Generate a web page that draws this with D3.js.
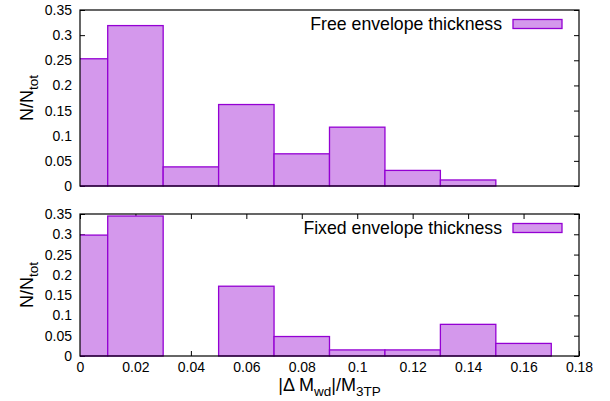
<!DOCTYPE html>
<html>
<head>
<meta charset="utf-8">
<script src="https://cdn.jsdelivr.net/npm/d3@7"></script>
<style>
  body { margin: 0; background: #fff; }
  svg { display: block; }
  text { font-family: "Liberation Sans", Arial, sans-serif; fill: #000; }
</style>
</head>
<body>
<svg id="chart" width="610" height="401"></svg>
<script>
// ---- data ----
const binCenters = [0, 0.02, 0.04, 0.06, 0.08, 0.10, 0.12, 0.14, 0.16];
const binWidth = 0.02;
const freeValues  = [0.253, 0.319, 0.038, 0.162, 0.064, 0.117, 0.031, 0.012, 0];
const fixedValues = [0.298, 0.345, 0, 0.172, 0.048, 0.015, 0.015, 0.078, 0.031];
const xTicks = [0, 0.02, 0.04, 0.06, 0.08, 0.10, 0.12, 0.14, 0.16, 0.18];
const yTicks = [0, 0.05, 0.10, 0.15, 0.20, 0.25, 0.30, 0.35];
const legendLabels = ["Free envelope thickness", "Fixed envelope thickness"];

const fillColor = "#d498ec";
const strokeColor = "#9400d3";

const svg = d3.select("#chart");
const left = 80, right = 579;
const x = d3.scaleLinear().domain([0, 0.18]).range([left, right]);

const panels = [
  { values: freeValues,  label: legendLabels[0], top: 10,  bottom: 186, xLabels: false, topTicks: false },
  { values: fixedValues, label: legendLabels[1], top: 214, bottom: 356, xLabels: true,  topTicks: true }
];

const fmt = d => d === 0 ? "0" : d3.format("")(+d.toFixed(2));

panels.forEach((p, i) => {
  const y = d3.scaleLinear().domain([0, 0.35]).range([p.bottom, p.top]);
  const g = svg.append("g");
  const clipId = "clip" + i;
  svg.append("clipPath").attr("id", clipId)
    .append("rect").attr("x", left).attr("y", p.top - 2)
    .attr("width", right - left).attr("height", p.bottom - p.top + 4);

  // y ticks left (inward)
  const yAxisL = d3.axisLeft(y).tickValues(yTicks).tickSizeInner(-5).tickSizeOuter(0)
    .tickPadding(8).tickFormat(fmt);
  const gl = g.append("g").attr("transform", `translate(${left},0)`).call(yAxisL);
  gl.select(".domain").remove();
  gl.selectAll("text").style("font-size", "14px").attr("font-family", "Liberation Sans, Arial, sans-serif");

  // y ticks right (inward, no labels)
  const yAxisR = d3.axisRight(y).tickValues(yTicks).tickSizeInner(-5).tickSizeOuter(0).tickFormat("");
  const gr = g.append("g").attr("transform", `translate(${right},0)`).call(yAxisR);
  gr.select(".domain").remove();

  if (p.topTicks) {
    const xAxisT = d3.axisTop(x).tickValues(xTicks).tickSizeInner(-5).tickSizeOuter(0).tickFormat("");
    const gt = g.append("g").attr("transform", `translate(0,${p.top})`).call(xAxisT);
    gt.select(".domain").remove();
  }
  if (p.xLabels) {
    const xAxisB = d3.axisBottom(x).tickValues(xTicks).tickSizeInner(-5).tickSizeOuter(0)
      .tickPadding(6).tickFormat(fmt);
    const gb = g.append("g").attr("transform", `translate(0,${p.bottom})`).call(xAxisB);
    gb.select(".domain").remove();
    gb.selectAll("text").style("font-size", "14px").attr("font-family", "Liberation Sans, Arial, sans-serif");
  }

  // bars
  g.append("g").attr("clip-path", `url(#${clipId})`)
    .selectAll("rect").data(binCenters.map((c, k) => ({ c, v: p.values[k] })).filter(d => d.v > 0))
    .enter().append("rect")
    .attr("x", d => x(d.c - binWidth / 2))
    .attr("width", d => x(d.c + binWidth / 2) - x(d.c - binWidth / 2))
    .attr("y", d => y(d.v))
    .attr("height", d => y(0) - y(d.v))
    .attr("fill", fillColor)
    .attr("stroke", strokeColor)
    .attr("stroke-width", 1.3);

  // border
  g.append("rect").attr("x", left).attr("y", p.top)
    .attr("width", right - left).attr("height", p.bottom - p.top)
    .attr("fill", "none").attr("stroke", "#000").attr("stroke-width", 1.2);

  // legend
  const ly = p.top + 14;
  g.append("text").attr("x", 502).attr("y", ly + 6)
    .attr("text-anchor", "end").style("font-size", "17.7px").text(p.label);
  g.append("rect").attr("x", 513).attr("y", ly - 4.5).attr("width", 49).attr("height", 9)
    .attr("fill", fillColor).attr("stroke", strokeColor).attr("stroke-width", 1.3);

  // y title
  const cy = (p.top + p.bottom) / 2;
  const yt = svg.append("text")
    .attr("transform", `translate(33,${cy}) rotate(-90)`)
    .attr("text-anchor", "middle").style("font-size", "18px");
  yt.append("tspan").text("N/N");
  yt.append("tspan").attr("dy", 4.5).style("font-size", "13.5px").text("tot");
});

// x title
const xt = svg.append("text").attr("x", (left + right) / 2).attr("y", 391)
  .attr("text-anchor", "middle").style("font-size", "18px");
xt.append("tspan").text("|\u0394 M");
xt.append("tspan").attr("dy", 4.5).style("font-size", "13.5px").text("wd");
xt.append("tspan").attr("dy", -4.5).text("|/M");
xt.append("tspan").attr("dy", 4.5).style("font-size", "13.5px").text("3TP");
</script>
</body>
</html>
